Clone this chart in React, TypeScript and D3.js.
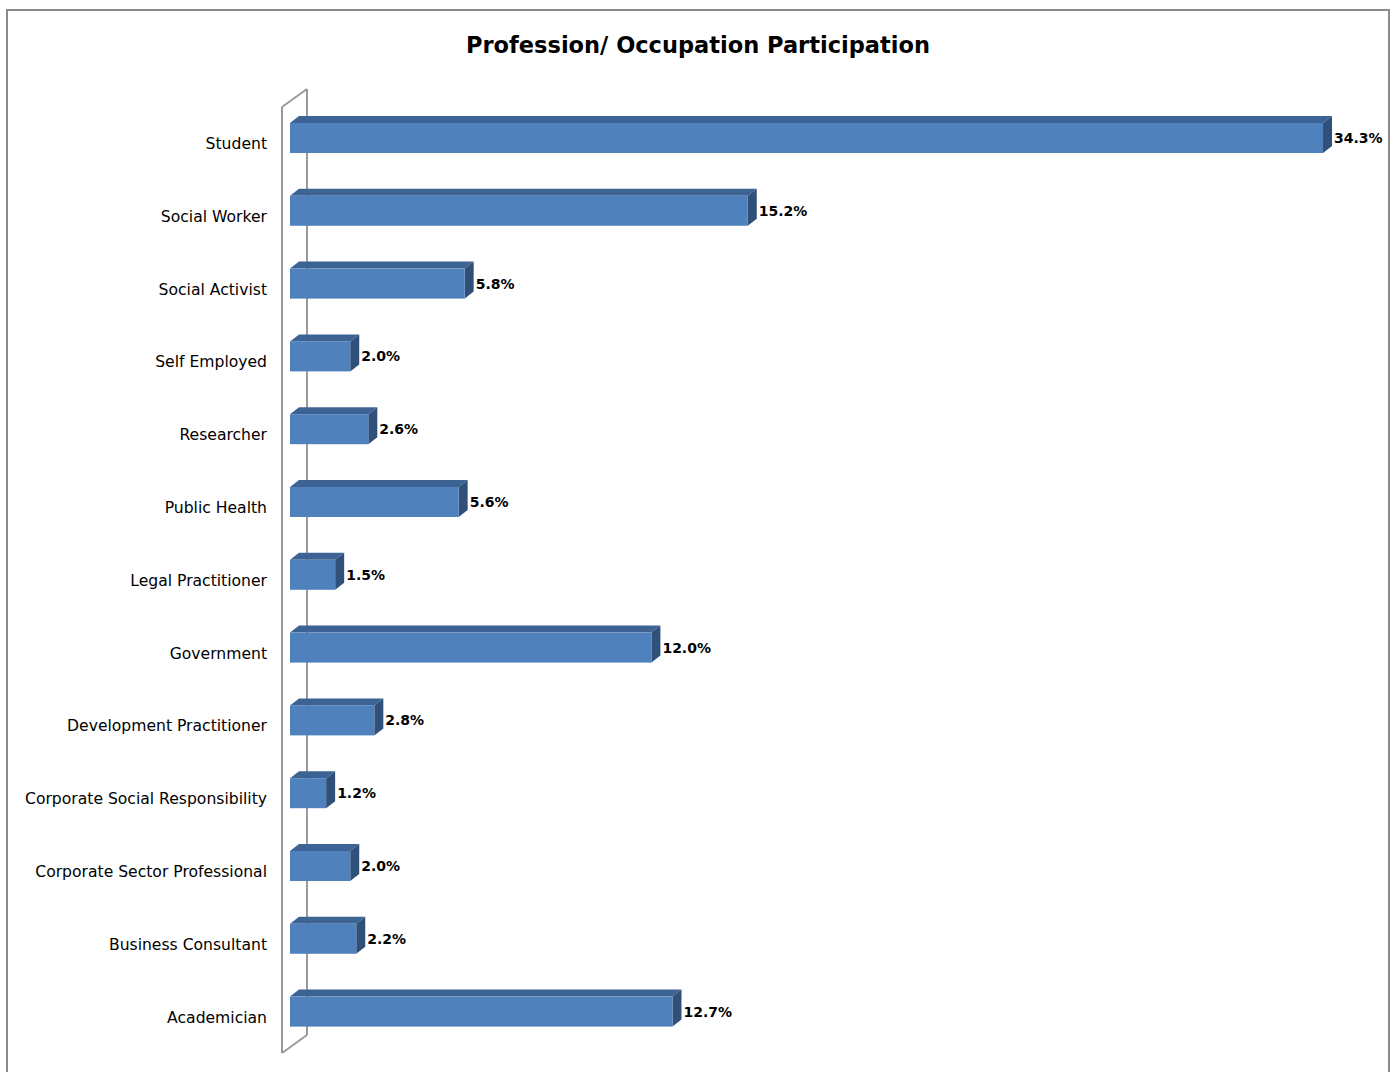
import React from "react";
import * as d3 from "d3";

const categories = [
  "Student",
  "Social Worker",
  "Social Activist",
  "Self Employed",
  "Researcher",
  "Public Health",
  "Legal Practitioner",
  "Government",
  "Development Practitioner",
  "Corporate Social Responsibility",
  "Corporate Sector Professional",
  "Business Consultant",
  "Academician",
];
const values = [34.3, 15.2, 5.8, 2.0, 2.6, 5.6, 1.5, 12.0, 2.8, 1.2, 2.0, 2.2, 12.7];
const title = "Profession/ Occupation Participation";

const W = 1396;
const H = 1072;
const FONT = "'DejaVu Sans', Verdana, sans-serif";

export default function App() {
  const x = d3.scaleLinear().domain([0, 35]).range([290, 290 + 35 * 30.117]);
  const y = d3
    .scaleBand<string>()
    .domain(categories)
    .range([101.6, 1048])
    .paddingInner(0.588)
    .paddingOuter(0.294);
  const bw = y.bandwidth();
  const dx = 9;
  const dy = -7;
  // wall geometry
  const wx0 = 282,
    wx1 = 307,
    wTop = 107,
    wBot = 1053,
    wdy = -18;

  return (
    <svg
      width={W}
      height={H}
      style={{ position: "absolute", left: 0, top: 0, background: "#fff" }}
    >
      <rect x={0} y={0} width={W} height={H} fill="#fff" />
      <rect x={7} y={10} width={1382} height={1080} fill="#fff" stroke="#8c8c8c" strokeWidth={2} />
      <text
        x={698}
        y={53}
        textAnchor="middle"
        fontFamily={FONT}
        fontWeight="bold"
        fontSize={22.5}
        fill="#000"
      >
        {title}
      </text>
      {/* wall */}
      <g fill="none" stroke="#9a9a9a" strokeWidth={2}>
        <line x1={wx0} y1={wTop} x2={wx0} y2={wBot} />
        <line x1={wx1} y1={wTop + wdy} x2={wx1} y2={wBot + wdy} />
        <line x1={wx0} y1={wTop} x2={wx1} y2={wTop + wdy} />
        <line x1={wx0} y1={wBot} x2={wx1} y2={wBot + wdy} />
      </g>
      {categories.map((c, i) => {
        const y0 = y(c)!;
        const x0 = x(0);
        const x1 = x(values[i]);
        return (
          <g key={c}>
            <polygon
              points={`${x0},${y0} ${x0 + dx},${y0 + dy} ${x1 + dx},${y0 + dy} ${x1},${y0}`}
              fill="#3d6394"
            />
            <polygon
              points={`${x1},${y0} ${x1 + dx},${y0 + dy} ${x1 + dx},${y0 + bw + dy} ${x1},${y0 + bw}`}
              fill="#2f5079"
            />
            <rect x={x0} y={y0} width={x1 - x0} height={bw} fill="#4f81bd" />
            <text
              x={x1 + dx + 2}
              y={y0 + bw / 2 + 5}
              fontFamily={FONT}
              fontWeight="bold"
              fontSize={14}
              fill="#000"
            >
              {values[i].toFixed(1) + "%"}
            </text>
            <text
              x={267}
              y={y0 + bw / 2 + 11}
              textAnchor="end"
              fontFamily={FONT}
              fontSize={15.6}
              fill="#000"
            >
              {c}
            </text>
          </g>
        );
      })}
    </svg>
  );
}
